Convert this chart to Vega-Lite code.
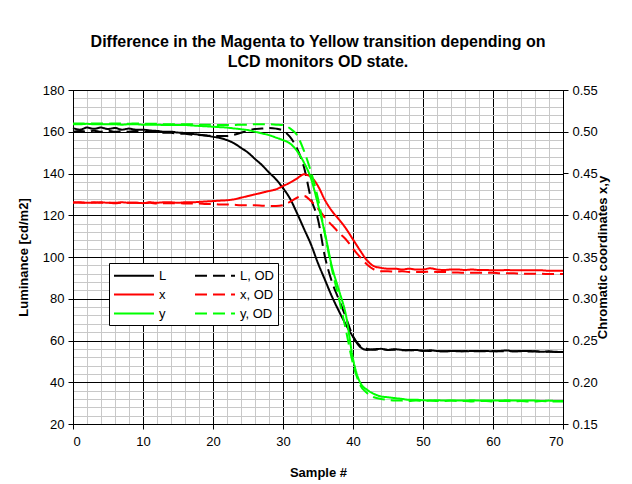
{
  "$schema": "https://vega.github.io/schema/vega-lite/v6.json",
  "width": 490,
  "height": 334,
  "autosize": {"type": "none"},
  "padding": {"left": 73, "top": 90, "right": 69, "bottom": 60},
  "background": "white",
  "config": {
    "font": "Liberation Sans",
    "view": {"stroke": "#000000"},
    "axis": {"labelFont": "Liberation Sans", "labelFontSize": 13, "labelColor": "#000", "titleFont": "Liberation Sans", "titleFontSize": 13, "titleFontWeight": "bold", "titleColor": "#000", "domainColor": "#000", "tickColor": "#000"},
    "legend": {
      "title": null,
      "orient": "none",
      "legendX": 36,
      "legendY": 173,
      "columns": 2,
      "columnPadding": 24,
      "rowPadding": 3,
      "padding": 4,
      "strokeColor": "#000000",
      "fillColor": "#ffffff",
      "symbolType": "M-1,0H4.333",
      "symbolSize": 225,
      "symbolStrokeWidth": 2,
      "labelFontSize": 13,
      "labelFont": "Liberation Sans",
      "labelColor": "#000",
      "labelOffset": 29
    }
  },
  "title": {
    "text": ["Difference in the Magenta to Yellow  transition depending on", "LCD monitors OD state."],
    "fontSize": 16,
    "fontWeight": "bold",
    "font": "Liberation Sans",
    "color": "#000",
    "anchor": "middle",
    "offset": 14,
    "lineHeight": 20
  },
  "data": {
    "values": [
      {"s":0,"L":161.8,"L, OD":160.0,"x":0.415,"x, OD":0.4155,"y":0.509,"y, OD":0.510},
      {"s":1,"L":161.0,"L, OD":160.4,"x":0.4155,"x, OD":0.415,"y":0.509,"y, OD":0.510},
      {"s":2,"L":162.0,"L, OD":160.0,"x":0.415,"x, OD":0.415,"y":0.5095,"y, OD":0.5095},
      {"s":3,"L":161.4,"L, OD":160.5,"x":0.415,"x, OD":0.4155,"y":0.509,"y, OD":0.510},
      {"s":4,"L":162.0,"L, OD":160.0,"x":0.4155,"x, OD":0.415,"y":0.509,"y, OD":0.510},
      {"s":5,"L":161.3,"L, OD":160.5,"x":0.415,"x, OD":0.415,"y":0.509,"y, OD":0.5095},
      {"s":6,"L":161.8,"L, OD":160.0,"x":0.415,"x, OD":0.4145,"y":0.509,"y, OD":0.510},
      {"s":7,"L":161.0,"L, OD":160.3,"x":0.4155,"x, OD":0.415,"y":0.5085,"y, OD":0.510},
      {"s":8,"L":161.5,"L, OD":160.0,"x":0.415,"x, OD":0.415,"y":0.509,"y, OD":0.5095},
      {"s":9,"L":161.0,"L, OD":160.4,"x":0.415,"x, OD":0.415,"y":0.509,"y, OD":0.510},
      {"s":10,"L":161.0,"L, OD":160.0,"x":0.4145,"x, OD":0.4145,"y":0.5085,"y, OD":0.5095},
      {"s":11,"L":160.6,"L, OD":160.0,"x":0.4155,"x, OD":0.415,"y":0.5085,"y, OD":0.5095},
      {"s":12,"L":160.4,"L, OD":159.8,"x":0.415,"x, OD":0.414,"y":0.5085,"y, OD":0.5095},
      {"s":13,"L":160.0,"L, OD":159.5,"x":0.4155,"x, OD":0.4145,"y":0.508,"y, OD":0.509},
      {"s":14,"L":160.0,"L, OD":159.5,"x":0.4155,"x, OD":0.4145,"y":0.508,"y, OD":0.509},
      {"s":15,"L":159.6,"L, OD":159.0,"x":0.415,"x, OD":0.4145,"y":0.508,"y, OD":0.509},
      {"s":16,"L":159.4,"L, OD":159.0,"x":0.4155,"x, OD":0.414,"y":0.508,"y, OD":0.509},
      {"s":17,"L":159.0,"L, OD":158.6,"x":0.4155,"x, OD":0.414,"y":0.5075,"y, OD":0.509},
      {"s":18,"L":158.6,"L, OD":158.5,"x":0.416,"x, OD":0.414,"y":0.507,"y, OD":0.5085},
      {"s":19,"L":158.2,"L, OD":158.2,"x":0.4165,"x, OD":0.4135,"y":0.5065,"y, OD":0.5085},
      {"s":20,"L":157.6,"L, OD":158.0,"x":0.417,"x, OD":0.4135,"y":0.506,"y, OD":0.5085},
      {"s":21,"L":157.0,"L, OD":158.0,"x":0.4175,"x, OD":0.413,"y":0.5055,"y, OD":0.508},
      {"s":22,"L":156.0,"L, OD":158.0,"x":0.418,"x, OD":0.413,"y":0.505,"y, OD":0.508},
      {"s":23,"L":154.5,"L, OD":158.5,"x":0.419,"x, OD":0.4125,"y":0.504,"y, OD":0.508},
      {"s":24,"L":152.3,"L, OD":159.5,"x":0.421,"x, OD":0.412,"y":0.503,"y, OD":0.5085},
      {"s":25,"L":150.0,"L, OD":160.5,"x":0.423,"x, OD":0.412,"y":0.502,"y, OD":0.5085},
      {"s":26,"L":147.0,"L, OD":161.3,"x":0.425,"x, OD":0.412,"y":0.500,"y, OD":0.509},
      {"s":27,"L":144.0,"L, OD":161.5,"x":0.427,"x, OD":0.4115,"y":0.498,"y, OD":0.509},
      {"s":28,"L":140.5,"L, OD":161.8,"x":0.429,"x, OD":0.411,"y":0.496,"y, OD":0.509},
      {"s":29,"L":137.2,"L, OD":161.5,"x":0.431,"x, OD":0.411,"y":0.493,"y, OD":0.5085},
      {"s":30,"L":133.0,"L, OD":160.5,"x":0.435,"x, OD":0.412,"y":0.490,"y, OD":0.508},
      {"s":31,"L":128.0,"L, OD":157.5,"x":0.439,"x, OD":0.416,"y":0.486,"y, OD":0.504},
      {"s":32,"L":121.0,"L, OD":152.0,"x":0.444,"x, OD":0.421,"y":0.477,"y, OD":0.496},
      {"s":33,"L":113.5,"L, OD":143.0,"x":0.449,"x, OD":0.423,"y":0.463,"y, OD":0.477},
      {"s":34,"L":106.0,"L, OD":128.0,"x":0.446,"x, OD":0.417,"y":0.444,"y, OD":0.452},
      {"s":35,"L":97.0,"L, OD":118.0,"x":0.435,"x, OD":0.408,"y":0.413,"y, OD":0.420},
      {"s":36,"L":89.0,"L, OD":100.0,"x":0.418,"x, OD":0.397,"y":0.378,"y, OD":0.377},
      {"s":37,"L":81.0,"L, OD":88.0,"x":0.405,"x, OD":0.388,"y":0.338,"y, OD":0.335},
      {"s":38,"L":74.0,"L, OD":79.5,"x":0.395,"x, OD":0.379,"y":0.310,"y, OD":0.300},
      {"s":39,"L":67.5,"L, OD":71.0,"x":0.384,"x, OD":0.371,"y":0.280,"y, OD":0.262},
      {"s":40,"L":61.8,"L, OD":62.0,"x":0.371,"x, OD":0.360,"y":0.228,"y, OD":0.222},
      {"s":41,"L":57.0,"L, OD":57.5,"x":0.358,"x, OD":0.350,"y":0.200,"y, OD":0.197},
      {"s":42,"L":55.5,"L, OD":56.0,"x":0.346,"x, OD":0.341,"y":0.191,"y, OD":0.187},
      {"s":43,"L":55.8,"L, OD":55.6,"x":0.339,"x, OD":0.335,"y":0.186,"y, OD":0.182},
      {"s":44,"L":56.0,"L, OD":55.8,"x":0.337,"x, OD":0.333,"y":0.183,"y, OD":0.180},
      {"s":45,"L":55.5,"L, OD":55.5,"x":0.336,"x, OD":0.333,"y":0.182,"y, OD":0.179},
      {"s":46,"L":55.8,"L, OD":55.6,"x":0.336,"x, OD":0.3325,"y":0.181,"y, OD":0.178},
      {"s":47,"L":55.5,"L, OD":55.3,"x":0.335,"x, OD":0.333,"y":0.180,"y, OD":0.178},
      {"s":48,"L":55.3,"L, OD":55.4,"x":0.336,"x, OD":0.332,"y":0.179,"y, OD":0.1775},
      {"s":49,"L":55.5,"L, OD":55.2,"x":0.335,"x, OD":0.332,"y":0.179,"y, OD":0.178},
      {"s":50,"L":55.0,"L, OD":55.2,"x":0.335,"x, OD":0.332,"y":0.1785,"y, OD":0.1775},
      {"s":51,"L":55.3,"L, OD":55.0,"x":0.3365,"x, OD":0.3325,"y":0.178,"y, OD":0.178},
      {"s":52,"L":55.0,"L, OD":55.0,"x":0.335,"x, OD":0.332,"y":0.1785,"y, OD":0.1775},
      {"s":53,"L":54.8,"L, OD":54.8,"x":0.3345,"x, OD":0.332,"y":0.178,"y, OD":0.1775},
      {"s":54,"L":55.0,"L, OD":54.9,"x":0.335,"x, OD":0.3315,"y":0.178,"y, OD":0.178},
      {"s":55,"L":55.0,"L, OD":54.8,"x":0.335,"x, OD":0.3315,"y":0.178,"y, OD":0.1775},
      {"s":56,"L":54.8,"L, OD":55.0,"x":0.3345,"x, OD":0.331,"y":0.178,"y, OD":0.1775},
      {"s":57,"L":55.0,"L, OD":54.8,"x":0.335,"x, OD":0.331,"y":0.1785,"y, OD":0.177},
      {"s":58,"L":55.0,"L, OD":54.9,"x":0.3345,"x, OD":0.331,"y":0.178,"y, OD":0.1775},
      {"s":59,"L":55.0,"L, OD":54.8,"x":0.3345,"x, OD":0.331,"y":0.178,"y, OD":0.1775},
      {"s":60,"L":54.8,"L, OD":55.0,"x":0.334,"x, OD":0.331,"y":0.178,"y, OD":0.177},
      {"s":61,"L":55.0,"L, OD":54.8,"x":0.334,"x, OD":0.3305,"y":0.178,"y, OD":0.1775},
      {"s":62,"L":55.2,"L, OD":55.0,"x":0.3345,"x, OD":0.3305,"y":0.1785,"y, OD":0.1775},
      {"s":63,"L":54.8,"L, OD":54.8,"x":0.334,"x, OD":0.3305,"y":0.178,"y, OD":0.177},
      {"s":64,"L":55.0,"L, OD":54.9,"x":0.334,"x, OD":0.330,"y":0.178,"y, OD":0.1775},
      {"s":65,"L":55.0,"L, OD":54.7,"x":0.334,"x, OD":0.330,"y":0.178,"y, OD":0.177},
      {"s":66,"L":54.8,"L, OD":54.8,"x":0.334,"x, OD":0.330,"y":0.178,"y, OD":0.177},
      {"s":67,"L":54.6,"L, OD":54.7,"x":0.334,"x, OD":0.330,"y":0.1775,"y, OD":0.1775},
      {"s":68,"L":54.8,"L, OD":54.6,"x":0.3335,"x, OD":0.3295,"y":0.178,"y, OD":0.177},
      {"s":69,"L":54.5,"L, OD":54.6,"x":0.3335,"x, OD":0.3295,"y":0.1775,"y, OD":0.177},
      {"s":70,"L":54.5,"L, OD":54.5,"x":0.3335,"x, OD":0.3295,"y":0.1775,"y, OD":0.177}
    ]
  },
  "encoding": {
    "x": {
      "field": "s",
      "type": "quantitative",
      "scale": {"domain": [0, 70], "nice": false, "zero": false},
      "axis": {
        "title": "Sample #",
        "titlePadding": 18,
        "values": [0,2,4,6,8,10,12,14,16,18,20,22,24,26,28,30,32,34,36,38,40,42,44,46,48,50,52,54,56,58,60,62,64,66,68,70],
        "labelExpr": "datum.value % 10 === 0 ? datum.label : ''",
        "labelPadding": 6,
        "tickSize": 5,
        "tickOpacity": {"condition": {"test": "datum.value % 10 === 0", "value": 1}, "value": 0},
        "grid": true,
        "gridColor": {"condition": {"test": "datum.value % 10 === 0", "value": "#000000"}, "value": "#c8c8c8"},
        "gridOpacity": 1,
        "gridWidth": 1
      }
    },
    "color": {
      "field": "series",
      "type": "nominal",
      "scale": {"domain": ["L", "x", "y", "L, OD", "x, OD", "y, OD"], "range": ["#000000", "#ff0000", "#00ff00", "#000000", "#ff0000", "#00ff00"]}
    },
    "strokeDash": {
      "field": "series",
      "type": "nominal",
      "scale": {"domain": ["L", "x", "y", "L, OD", "x, OD", "y, OD"], "range": [[1, 0], [1, 0], [1, 0], [12, 6], [12, 6], [12, 6]]}
    }
  },
  "layer": [
    {
      "transform": [{"fold": ["L", "L, OD"], "as": ["series", "v"]}],
      "mark": {"type": "line", "strokeWidth": 2, "interpolate": "monotone"},
      "encoding": {
        "y": {
          "field": "v",
          "type": "quantitative",
          "scale": {"domain": [20, 180], "nice": false, "zero": false},
          "axis": {
            "title": "Luminance [cd/m2]",
            "titlePadding": 12,
            "orient": "left",
            "values": [20,24,28,32,36,40,44,48,52,56,60,64,68,72,76,80,84,88,92,96,100,104,108,112,116,120,124,128,132,136,140,144,148,152,156,160,164,168,172,176,180],
            "labelExpr": "datum.value % 20 === 0 ? datum.label : ''",
            "labelPadding": 4,
            "tickSize": 5,
            "tickOpacity": {"condition": {"test": "datum.value % 20 === 0", "value": 1}, "value": 0},
            "grid": true,
            "gridColor": {"condition": {"test": "datum.value % 20 === 0", "value": "#000000"}, "value": "#c8c8c8"},
            "gridOpacity": 1
          }
        }
      }
    },
    {
      "transform": [{"fold": ["x", "x, OD", "y", "y, OD"], "as": ["series", "v"]}],
      "mark": {"type": "line", "strokeWidth": 2, "interpolate": "monotone"},
      "encoding": {
        "y": {
          "field": "v",
          "type": "quantitative",
          "scale": {"domain": [0.15, 0.55], "nice": false, "zero": false},
          "axis": {
            "title": "Chromatic coordinates x,y",
            "titleAngle": 270,
            "titlePadding": 12,
            "orient": "right",
            "values": [0.15, 0.2, 0.25, 0.3, 0.35, 0.4, 0.45, 0.5, 0.55],
            "format": ".2f",
            "labelPadding": 4,
            "tickSize": 5,
            "grid": false
          }
        }
      }
    }
  ],
  "resolve": {"scale": {"y": "independent"}, "axis": {"y": "independent"}}
}
